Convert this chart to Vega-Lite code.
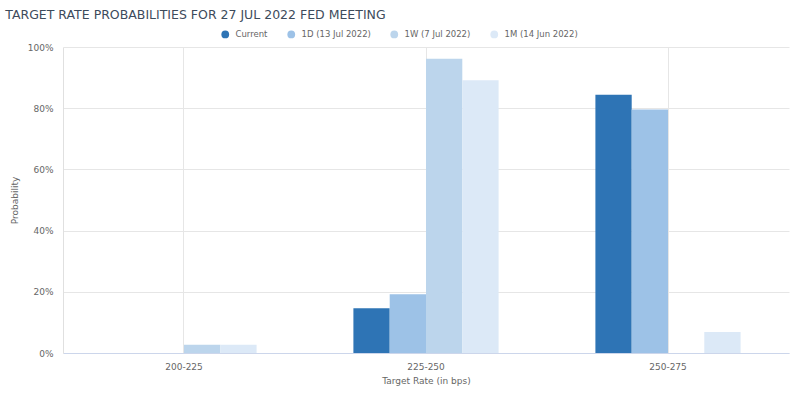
{
  "$schema": "https://vega.github.io/schema/vega-lite/v6.json",
  "autosize": {"type": "none"},
  "width": 726,
  "height": 306,
  "padding": {"left": 63, "top": 47, "right": 11, "bottom": 41},
  "background": "white",
  "title": {
    "text": "TARGET RATE PROBABILITIES FOR 27 JUL 2022 FED MEETING",
    "anchor": "start",
    "frame": "bounds",
    "font": "DejaVu Sans",
    "fontSize": 12.5,
    "fontWeight": "normal",
    "color": "#3d4b5c",
    "offset": 9,
    "dx": -5
  },
  "data": {
    "values": [
      {"range": "200-225", "series": "Current", "prob": 0},
      {"range": "200-225", "series": "1D (13 Jul 2022)", "prob": 0},
      {"range": "200-225", "series": "1W (7 Jul 2022)", "prob": 2.7},
      {"range": "200-225", "series": "1M (14 Jun 2022)", "prob": 2.7},
      {"range": "225-250", "series": "Current", "prob": 14.6},
      {"range": "225-250", "series": "1D (13 Jul 2022)", "prob": 19.2},
      {"range": "225-250", "series": "1W (7 Jul 2022)", "prob": 96.2},
      {"range": "225-250", "series": "1M (14 Jun 2022)", "prob": 89.1},
      {"range": "250-275", "series": "Current", "prob": 84.4},
      {"range": "250-275", "series": "1D (13 Jul 2022)", "prob": 79.6},
      {"range": "250-275", "series": "1W (7 Jul 2022)", "prob": 0},
      {"range": "250-275", "series": "1M (14 Jun 2022)", "prob": 6.9}
    ]
  },
  "mark": {"type": "bar"},
  "encoding": {
    "x": {
      "field": "range",
      "type": "nominal",
      "sort": ["200-225", "225-250", "250-275"],
      "scale": {"paddingInner": 0.4, "paddingOuter": 0.2},
      "axis": {
        "title": "Target Rate (in bps)",
        "labelAngle": 0,
        "grid": true,
        "bandPosition": 0.5,
        "gridColor": "#e6e6e6",
        "ticks": false,
        "domainColor": "#ccd6eb",
        "labelPadding": 9,
        "titlePadding": 5
      }
    },
    "xOffset": {
      "field": "series",
      "type": "nominal",
      "sort": ["Current", "1D (13 Jul 2022)", "1W (7 Jul 2022)", "1M (14 Jun 2022)"],
      "scale": {"paddingInner": 0}
    },
    "y": {
      "field": "prob",
      "type": "quantitative",
      "scale": {"domain": [0, 100], "nice": false},
      "axis": {
        "title": "Probability",
        "values": [0, 20, 40, 60, 80, 100],
        "labelExpr": "datum.value + '%'",
        "gridColor": "#e6e6e6",
        "ticks": false,
        "domain": true,
        "domainColor": "#e0e0e0",
        "labelPadding": 10,
        "titlePadding": 8
      }
    },
    "color": {
      "field": "series",
      "type": "nominal",
      "sort": ["Current", "1D (13 Jul 2022)", "1W (7 Jul 2022)", "1M (14 Jun 2022)"],
      "scale": {
        "domain": ["Current", "1D (13 Jul 2022)", "1W (7 Jul 2022)", "1M (14 Jun 2022)"],
        "range": ["#2e74b5", "#9dc2e7", "#bcd5ec", "#dce9f7"]
      },
      "legend": {
        "title": null,
        "orient": "none",
        "direction": "horizontal",
        "legendX": 158,
        "legendY": -17,
        "symbolType": "circle",
        "symbolSize": 60,
        "symbolStrokeWidth": 0,
        "labelFontSize": 8.5,
        "labelColor": "#666666",
        "labelFont": "DejaVu Sans",
        "columnPadding": 19,
        "labelOffset": 6
      }
    }
  },
  "config": {
    "view": {"stroke": null},
    "axis": {
      "labelFont": "DejaVu Sans",
      "labelFontSize": 9,
      "labelColor": "#666666",
      "titleFont": "DejaVu Sans",
      "titleFontSize": 9,
      "titleFontWeight": "normal",
      "titleColor": "#666666"
    }
  }
}
